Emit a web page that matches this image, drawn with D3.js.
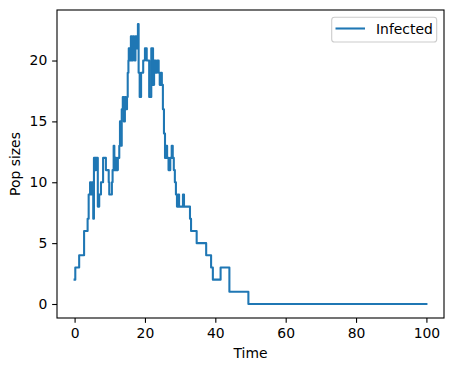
<!DOCTYPE html>
<html>
<head>
<meta charset="utf-8">
<script src="https://cdn.jsdelivr.net/npm/d3@7"></script>
<style>
  body { margin: 0; background: #fff; }
  svg text { font-family: "DejaVu Sans", sans-serif; }
</style>
</head>
<body>
<div id="chart"></div>
<script>
var width = 454,
    height = 371;

var margin = {top: 10, right: 10, bottom: 53, left: 57};
var fontPx = 13.9;

// event times and infected counts (step after each event)
var times = [0, 0.2, 1.3, 2.7, 3.7, 4.0, 4.4, 4.7, 5.0, 5.3, 5.5, 5.9, 6.1, 6.6, 7.0, 7.5,
    8.1, 8.9, 9.7, 9.85, 10.6, 10.8, 11.1, 11.3, 11.6, 11.8, 12.3, 12.7, 12.9, 13.2, 13.4,
    13.7, 14.0, 14.3, 14.6, 14.9, 15.1, 15.3, 15.4, 15.6, 16.0, 16.3, 16.6, 16.9, 17.1,
    17.3, 17.6, 18.0, 18.2, 18.5, 18.9, 19.5, 20.0, 20.5, 21.2, 21.8, 22.3, 22.6, 23.0,
    23.4, 23.9, 24.2, 24.5, 24.8, 25.1, 25.4, 25.7, 26.0, 26.3, 26.7, 27.2, 27.6, 27.9,
    28.2, 28.5, 28.8, 29.1, 29.4, 29.7, 30.8, 31.1, 32.8, 33.1, 34.7, 37.4, 38.8, 39.3,
    41.5, 44.0, 49.4, 100];
var infected = [2, 3, 4, 6, 7, 9, 10, 9, 10, 7, 12, 11, 12, 8, 9, 10,
    12, 11, 10, 9, 10, 11, 13, 11, 12, 11, 12, 13, 15, 13, 16,
    17, 15, 17, 16, 17, 19, 20, 21, 20, 22, 20, 22, 21, 20,
    22, 21, 23, 19, 17, 19, 20, 21, 20, 17, 21, 18, 20, 19,
    20, 19, 18, 19, 18, 16, 14, 12, 13, 12, 11, 12, 13, 12,
    11, 10, 9, 8, 9, 8, 9, 8, 7, 6, 5, 4, 3, 2,
    3, 1, 0, 0];

var xTicks = [0, 20, 40, 60, 80, 100];
var yTicks = [0, 5, 10, 15, 20];
var seriesName = "Infected";

var points = times.map(function(t, i) { return {t: t, v: infected[i]}; });

var svg = d3.select("#chart").append("svg")
    .attr("width", width)
    .attr("height", height);

var innerW = width - margin.left - margin.right,
    innerH = height - margin.top - margin.bottom;

var xPad = (d3.max(times) - d3.min(times)) * 0.05,
    yPad = (d3.max(infected) - d3.min(infected)) * 0.05;

var x = d3.scaleLinear()
    .domain([d3.min(times) - xPad, d3.max(times) + xPad])
    .range([margin.left, margin.left + innerW]);

var y = d3.scaleLinear()
    .domain([d3.min(infected) - yPad, d3.max(infected) + yPad])
    .range([margin.top + innerH, margin.top]);

var line = d3.line()
    .x(function(d) { return x(d.t); })
    .y(function(d) { return y(d.v); })
    .curve(d3.curveStepAfter);

svg.append("path")
    .datum(points)
    .attr("fill", "none")
    .attr("stroke", "#1f77b4")
    .attr("stroke-width", 2.08)
    .attr("stroke-linejoin", "round")
    .attr("stroke-linecap", "square")
    .attr("d", line);

// axes
var xAxis = svg.append("g")
    .attr("transform", "translate(0," + (margin.top + innerH) + ")")
    .call(d3.axisBottom(x).tickValues(xTicks).tickSize(4.86).tickPadding(4.86).tickSizeOuter(0));

var yAxis = svg.append("g")
    .attr("transform", "translate(" + margin.left + ",0)")
    .call(d3.axisLeft(y).tickValues(yTicks).tickSize(4.86).tickPadding(4.86).tickSizeOuter(0));

[xAxis, yAxis].forEach(function(g) {
    g.select(".domain").remove();
    g.selectAll(".tick line").attr("stroke", "#000").attr("stroke-width", 1.1);
    g.selectAll(".tick text").attr("fill", "#000").style("font-size", fontPx + "px");
});

// frame
svg.append("rect")
    .attr("x", margin.left)
    .attr("y", margin.top)
    .attr("width", innerW)
    .attr("height", innerH)
    .attr("fill", "none")
    .attr("stroke", "#000")
    .attr("stroke-width", 1.1);

svg.append("text")
    .attr("x", margin.left + innerW / 2)
    .attr("y", 357.5)
    .attr("text-anchor", "middle")
    .style("font-size", fontPx + "px")
    .text("Time");

svg.append("text")
    .attr("transform", "translate(19.5," + (margin.top + innerH / 2) + ") rotate(-90)")
    .attr("text-anchor", "middle")
    .style("font-size", fontPx + "px")
    .text("Pop sizes");

// legend
var legend = svg.append("g");
legend.append("rect")
    .attr("x", 331.7)
    .attr("y", 17.3)
    .attr("width", 105)
    .attr("height", 24.7)
    .attr("rx", 2.8)
    .attr("fill", "#fff")
    .attr("fill-opacity", 0.8)
    .attr("stroke", "#cccccc")
    .attr("stroke-width", 1.1);
legend.append("line")
    .attr("x1", 335.5)
    .attr("x2", 365)
    .attr("y1", 28.5)
    .attr("y2", 28.5)
    .attr("stroke", "#1f77b4")
    .attr("stroke-width", 2.08);
legend.append("text")
    .attr("x", 376)
    .attr("y", 34)
    .style("font-size", fontPx + "px")
    .text(seriesName);
</script>
</body>
</html>
